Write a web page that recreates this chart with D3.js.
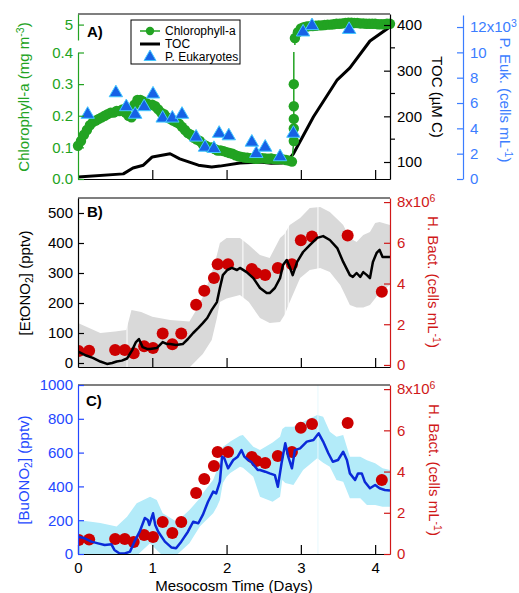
<!DOCTYPE html>
<html><head><meta charset="utf-8">
<script src="https://cdn.jsdelivr.net/npm/d3@7"></script>
<style>body{margin:0;background:#fff} text{font-family:"Liberation Sans",Arial,sans-serif}</style>
</head><body><svg id="c" width="519" height="593"></svg>
<script>
// ---------------- DATA ----------------
const dayTicks = [0, 1, 2, 3, 4];
// Chlorophyll-a (mg m-3): [day, value]
const chlLow = [[0,0.105],[0.04,0.12],[0.08,0.14],[0.12,0.155],[0.16,0.17],[0.2,0.18],[0.24,0.185],[0.28,0.19],[0.32,0.195],[0.36,0.2],[0.4,0.205],[0.44,0.21],[0.48,0.21],[0.52,0.215],[0.56,0.215],[0.6,0.22],[0.64,0.21],[0.68,0.2],[0.72,0.195],[0.76,0.235],[0.8,0.25],[0.84,0.25],[0.88,0.245],[0.92,0.24],[0.96,0.235],[1.0,0.235],[1.04,0.23],[1.08,0.22],[1.12,0.21],[1.16,0.205],[1.2,0.195],[1.24,0.19],[1.28,0.185],[1.32,0.18],[1.36,0.175],[1.4,0.165],[1.44,0.155],[1.48,0.145],[1.52,0.14],[1.56,0.13],[1.6,0.125],[1.64,0.12],[1.68,0.11],[1.72,0.105],[1.76,0.1],[1.8,0.1],[1.84,0.095],[1.88,0.09],[1.92,0.09],[1.96,0.088],[2.0,0.085],[2.04,0.082],[2.08,0.08],[2.12,0.075],[2.16,0.072],[2.2,0.07],[2.24,0.068],[2.28,0.067],[2.32,0.066],[2.36,0.065],[2.4,0.064],[2.44,0.065],[2.48,0.066],[2.52,0.065],[2.56,0.064],[2.6,0.065],[2.64,0.063],[2.68,0.062],[2.72,0.063],[2.76,0.062],[2.8,0.06],[2.84,0.058],[2.88,0.055]];
const chlJump = [[2.905,0.12],[2.905,0.16],[2.905,0.19],[2.905,0.23],[2.905,0.30]];
const chlHigh = [[2.92,4.65],[2.96,4.8],[3.0,4.9],[3.04,4.93],[3.08,4.95],[3.12,4.96],[3.16,4.96],[3.2,4.97],[3.24,4.98],[3.28,4.98],[3.32,4.99],[3.36,5.0],[3.4,5.0],[3.44,5.01],[3.48,5.02],[3.52,5.02],[3.56,5.03],[3.6,5.04],[3.64,5.05],[3.68,5.05],[3.72,5.04],[3.76,5.04],[3.8,5.03],[3.84,5.03],[3.88,5.02],[3.92,5.02],[3.96,5.02],[4.0,5.02],[4.04,5.01],[4.08,5.01],[4.12,5.01],[4.16,5.02],[4.2,5.02]];
// TOC (uM C)
const tocData = [[0,67],[0.61,74],[0.74,87],[0.88,93],[1.0,111],[1.24,118],[1.37,107],[1.62,93],[1.8,89],[1.91,91],[2.18,98],[2.45,100],[2.6,97],[2.75,98],[2.83,104],[2.9,118],[3.17,199],[3.49,280],[3.66,306],[3.93,365],[4.2,396]];
// P. Eukaryotes (10^3 cells mL-1)
const pEuk = [[0.13,5.1],[0.51,6.8],[0.65,5.7],[0.77,5.1],[0.89,5.7],[1.01,6.7],[1.14,4.8],[1.27,4.8],[1.40,5.1],[1.59,3.3],[1.71,2.5],[1.83,2.4],[1.90,3.6],[2.03,3.4],[2.34,2.9],[2.40,2.0],[2.52,2.5],[2.72,1.75],[2.90,3.6],[3.03,11.6],[3.15,12.1],[3.65,11.8]];
// H. Bact. (10^6 cells mL-1)
const hBactDays = [0.01,0.15,0.5,0.63,0.75,0.89,1.01,1.14,1.27,1.39,1.59,1.70,1.83,1.88,2.02,2.34,2.40,2.52,2.69,2.88,3.0,3.15,3.63,4.09];
const hBactVals = [0.68,0.70,0.73,0.73,0.58,0.92,0.83,1.55,1.02,1.55,2.96,3.64,4.27,4.95,4.95,4.71,4.51,4.42,4.76,4.95,6.12,6.31,6.36,3.59];
// EtONO2 (pptv)
const etono2 = [[0.01,37],[0.11,25],[0.2,17],[0.3,5],[0.39,-3],[0.46,0],[0.52,5],[0.59,8],[0.66,15],[0.73,43],[0.78,70],[0.82,80],[0.87,53],[0.93,47],[0.97,47],[1.06,50],[1.14,70],[1.2,63],[1.24,63],[1.32,60],[1.41,63],[1.48,80],[1.55,100],[1.62,117],[1.68,133],[1.74,150],[1.8,177],[1.87,203],[1.91,250],[1.95,293],[2.01,310],[2.07,317],[2.14,310],[2.18,317],[2.27,303],[2.36,283],[2.45,250],[2.54,233],[2.58,233],[2.65,250],[2.72,283],[2.76,327],[2.81,343],[2.85,320],[2.89,293],[2.95,337],[3.03,370],[3.12,393],[3.22,417],[3.3,423],[3.39,410],[3.49,383],[3.57,337],[3.66,293],[3.7,287],[3.75,300],[3.8,287],[3.84,303],[3.89,293],[3.93,283],[3.97,337],[4.02,367],[4.06,377],[4.1,353],[4.2,353]];
// EtONO2 range: [day, low, high]
const etono2Band = [[0,-20,133],[0.3,-20,100],[0.5,-20,105],[0.65,-20,110],[0.72,-20,177],[0.85,-20,170],[1.0,-20,154],[1.24,-20,143],[1.5,-15,138],[1.6,10,180],[1.68,30,220],[1.8,77,300],[1.87,150,360],[1.91,203,400],[2.0,215,417],[2.18,227,417],[2.3,203,393],[2.45,150,360],[2.58,133,350],[2.72,137,417],[2.78,160,430],[2.85,203,460],[2.99,283,483],[3.12,310,517],[3.26,317,520],[3.39,303,503],[3.53,260,470],[3.57,240,460],[3.66,193,417],[3.75,185,403],[3.84,185,427],[3.93,193,437],[4.0,215,467],[4.06,237,470],[4.2,260,460]];
const etono2Gaps = [0.66, 2.22, 2.79, 2.83, 3.23];
// BuONO2 (pptv)
const buono2 = [[0,102],[0.09,93],[0.18,73],[0.27,63],[0.36,53],[0.45,57],[0.49,24],[0.56,3],[0.63,3],[0.7,14],[0.76,73],[0.83,132],[0.9,213],[0.94,201],[0.96,172],[1.01,241],[1.04,172],[1.08,132],[1.17,73],[1.26,38],[1.32,34],[1.39,73],[1.48,132],[1.55,191],[1.62,182],[1.68,231],[1.75,309],[1.82,369],[1.86,359],[1.91,428],[1.94,576],[1.97,566],[2.02,507],[2.09,556],[2.15,576],[2.2,615],[2.24,576],[2.29,556],[2.33,546],[2.42,497],[2.45,497],[2.52,487],[2.58,477],[2.65,467],[2.69,398],[2.74,537],[2.79,655],[2.83,576],[2.88,507],[2.92,615],[2.99,625],[3.08,665],[3.17,675],[3.24,714],[3.3,665],[3.37,596],[3.43,546],[3.5,556],[3.57,605],[3.62,556],[3.66,477],[3.73,438],[3.77,477],[3.82,477],[3.86,428],[3.93,389],[4.0,408],[4.06,389],[4.13,379],[4.2,375]];
const buono2Band = [[0,-20,201],[0.3,-20,183],[0.52,-20,162],[0.66,-20,221],[0.79,-10,300],[0.97,63,339],[1.06,24,320],[1.14,-10,241],[1.33,-5,191],[1.5,63,260],[1.64,162,330],[1.68,180,359],[1.82,241,440],[1.87,280,497],[1.91,320,560],[1.95,420,635],[2.0,457,650],[2.05,480,665],[2.18,517,700],[2.22,510,704],[2.36,457,635],[2.45,339,615],[2.62,309,660],[2.72,339,694],[2.75,438,740],[2.79,420,753],[2.9,408,753],[3.03,497,783],[3.22,566,822],[3.3,540,812],[3.39,517,724],[3.48,438,694],[3.57,428,704],[3.66,330,576],[3.8,330,576],[3.89,290,555],[4.0,290,537],[4.1,280,507],[4.2,280,497]];
const buono2Gaps = [3.23];
const chlTicksLow = [0, 0.1, 0.2, 0.3, 0.4];
const chlTicksHigh = [5];
const tocTicks = [100, 200, 300, 400];
const tocMinor = [150, 250, 350];
const eukTicks = [0, 2, 4, 6, 8, 10, 12];
const etTicks = [0, 100, 200, 300, 400, 500];
const buTicks = [0, 200, 400, 600, 800, 1000];
const hbTicks = [0, 2, 4, 6, 8];

// ---------------- STYLE ----------------
const GREEN = "#22a322", EUKBLUE = "#3b7dff", RED = "#d01818", CBLUE = "#2447ff", LINEBLUE = "#0b2ad8";
const FS = 15;
const svg = d3.select("#c");
const defs = svg.append("defs");
function clip(id, x0, y0, x1, y1) {
  defs.append("clipPath").attr("id", id).append("rect").attr("x", x0).attr("y", y0).attr("width", x1 - x0).attr("height", y1 - y0);
  return "url(#" + id + ")";
}
const x = d3.scaleLinear().domain([0, 4.2]).range([78, 390]);

function styleAxis(g, color) {
  g.attr("font-size", FS).attr("font-family", null);
  g.selectAll("path,line").attr("stroke", color).attr("stroke-width", 1.2);
  g.selectAll("text").attr("fill", color);
}
function sup(t, main, s, after) {
  t.text(main);
  t.append("tspan").attr("dy", "-0.5em").attr("font-size", "0.7em").text(s);
  if (after) t.append("tspan").attr("dy", (0.35 * FS) + "px").text(after);
}
function title(cx, cy, rot, color) {
  return svg.append("text").attr("transform", `translate(${cx},${cy}) rotate(${rot})`)
    .attr("text-anchor", "middle").attr("font-size", FS).attr("fill", color);
}

// ================= PANEL A =================
const yLo = d3.scaleLinear().domain([0, 0.4]).range([179, 52.5]);
const yHi = d3.scaleLinear().domain([4.6, 5.275]).range([40, 14]);
const yToc = d3.scaleLinear().domain([62.77, 424.1]).range([179, 14]);
const yEuk = d3.scaleLinear().domain([0, 12.95]).range([179, 15]);
const cA = clip("cA", 78, 14, 390, 179);

svg.append("path").datum(tocData).attr("clip-path", cA)
  .attr("d", d3.line().x(d => x(d[0])).y(d => yToc(d[1])))
  .attr("fill", "none").attr("stroke", "#000").attr("stroke-width", 3).attr("stroke-linejoin", "round");

const chlAll = chlLow.concat(chlJump, chlHigh);
[[yLo, clip("cALo", 70, 52, 400, 186)], [yHi, clip("cAHi", 70, 8, 400, 45)]].forEach(([ys, cp]) => {
  const g = svg.append("g").attr("clip-path", cp);
  g.append("path").datum(chlAll).attr("d", d3.line().x(d => x(d[0])).y(d => ys(d[1])))
    .attr("fill", "none").attr("stroke", GREEN).attr("stroke-width", 1.5);
  g.selectAll("circle").data(chlAll).join("circle").attr("cx", d => x(d[0])).attr("cy", d => ys(d[1])).attr("r", 5.2).attr("fill", GREEN);
});

const tri = d3.symbol(d3.symbolTriangle, 78);
svg.append("g").selectAll("path").data(pEuk).join("path").attr("d", tri)
  .attr("transform", d => `translate(${x(d[0])},${yEuk(d[1])})`)
  .attr("fill", "#1662e6").attr("stroke", "#45c9ff").attr("stroke-width", 1);

// frame A
svg.append("line").attr("x1", 78).attr("x2", 390).attr("y1", 14).attr("y2", 14).attr("stroke", "#000").attr("stroke-width", 1.2);
styleAxis(svg.append("g").attr("transform", "translate(0,179)")
  .call(d3.axisBottom(x).tickValues(dayTicks.slice(1)).tickSize(-9).tickSizeOuter(0).tickFormat("")), "#000");
styleAxis(svg.append("g").attr("transform", "translate(78,0)")
  .call(d3.axisLeft(yLo).tickValues(chlTicksLow).tickFormat(d3.format(".1f")).tickSize(-6).tickSizeOuter(0).tickPadding(5)), GREEN);
styleAxis(svg.append("g").attr("transform", "translate(78,0)")
  .call(d3.axisLeft(yHi).tickValues(chlTicksHigh).tickFormat(d3.format("d")).tickSize(-6).tickSizeOuter(0).tickPadding(5)), GREEN);
styleAxis(svg.append("g").attr("transform", "translate(390,0)")
  .call(d3.axisRight(yToc).tickValues(tocTicks).tickSize(-6).tickSizeOuter(0).tickPadding(7)), "#000");
svg.append("g").selectAll("line").data(tocMinor).join("line")
  .attr("x1", 390).attr("x2", 395).attr("y1", d => yToc(d)).attr("y2", d => yToc(d)).attr("stroke", "#000").attr("stroke-width", 1.2);
const gEuk = svg.append("g").attr("transform", "translate(463,0)")
  .call(d3.axisRight(yEuk).tickValues(eukTicks).tickSize(-6).tickSizeOuter(0).tickPadding(7));
styleAxis(gEuk, EUKBLUE);
gEuk.selectAll("text").filter(d => d === 12).each(function () { sup(d3.select(this), "12x10", "3"); });

sup(title(29, 97, -90, GREEN), "Chlorophyll-a (mg m", "-3", ")");
title(432, 97, 90, "#000").text("TOC (µM C)");
sup(title(500, 100, 90, EUKBLUE), "P. Euk. (cells mL", "-1", ")");
svg.append("text").attr("x", 87).attr("y", 37).attr("font-size", FS).attr("font-weight", "bold").text("A)");

// legend
const lg = svg.append("g");
lg.append("rect").attr("x", 131).attr("y", 20).attr("width", 109).attr("height", 44).attr("fill", "#fff").attr("stroke", "#000").attr("stroke-width", 1);
lg.append("line").attr("x1", 140).attr("x2", 160).attr("y1", 31).attr("y2", 31).attr("stroke", GREEN).attr("stroke-width", 1.5);
lg.append("circle").attr("cx", 150).attr("cy", 31).attr("r", 4.2).attr("fill", GREEN);
lg.append("line").attr("x1", 140).attr("x2", 160).attr("y1", 44).attr("y2", 44).attr("stroke", "#000").attr("stroke-width", 3);
lg.append("path").attr("d", d3.symbol(d3.symbolTriangle, 62)).attr("transform", "translate(150,57)").attr("fill", "#1662e6").attr("stroke", "#45c9ff");
["Chlorophyll-a", "TOC", "P. Eukaryotes"].forEach((t, i) =>
  lg.append("text").attr("x", 165).attr("y", 35 + i * 13).attr("font-size", 12).text(t));

// ================= PANEL B =================
const yEt = d3.scaleLinear().domain([-13.3, 550]).range([367, 198]);
const yHbB = d3.scaleLinear().domain([-0.1, 8.2]).range([367, 198]);
const cB = clip("cB", 78, 198, 390, 367);
const gB = svg.append("g").attr("clip-path", cB);
gB.append("path").datum(etono2Band).attr("d", d3.area().x(d => x(d[0])).y0(d => yEt(d[1])).y1(d => yEt(d[2]))).attr("fill", "#d9d9d9");
gB.selectAll("line.gap").data(etono2Gaps).join("line").attr("class", "gap")
  .attr("x1", d => x(d)).attr("x2", d => x(d)).attr("y1", 198).attr("y2", 367).attr("stroke", "#fff").attr("stroke-width", 1);
gB.selectAll("circle").data(hBactDays).join("circle").attr("cx", d => x(d)).attr("cy", (d, i) => yHbB(hBactVals[i])).attr("r", 6).attr("fill", "#cc0000");
gB.append("path").datum(etono2).attr("d", d3.line().x(d => x(d[0])).y(d => yEt(d[1])))
  .attr("fill", "none").attr("stroke", "#000").attr("stroke-width", 2.5).attr("stroke-linejoin", "round");

svg.append("line").attr("x1", 78).attr("x2", 390).attr("y1", 198).attr("y2", 198).attr("stroke", "#000").attr("stroke-width", 1.2);
styleAxis(svg.append("g").attr("transform", "translate(0,367)")
  .call(d3.axisBottom(x).tickValues(dayTicks.slice(1)).tickSize(-9).tickSizeOuter(0).tickFormat("")), "#000");
styleAxis(svg.append("g").attr("transform", "translate(78,0)")
  .call(d3.axisLeft(yEt).tickValues(etTicks).tickFormat(d3.format("d")).tickSize(-6).tickSizeOuter(0).tickPadding(5)), "#000");
const gHbB = svg.append("g").attr("transform", "translate(390,0)")
  .call(d3.axisRight(yHbB).tickValues(hbTicks).tickSize(-6).tickSizeOuter(0).tickPadding(7));
styleAxis(gHbB, RED);
gHbB.selectAll("text").filter(d => d === 8).each(function () { sup(d3.select(this), "8x10", "6"); });
(function () {
  const t = title(30, 283, -90, "#000");
  t.text("[EtONO");
  t.append("tspan").attr("dy", "0.3em").attr("font-size", "0.7em").text("2");
  t.append("tspan").attr("dy", (-0.21 * FS) + "px").text("] (pptv)");
})();
sup(title(428, 282, 90, RED), "H. Bact. (cells mL", "-1", ")");
svg.append("text").attr("x", 87).attr("y", 217).attr("font-size", FS).attr("font-weight", "bold").text("B)");

// ================= PANEL C =================
const yBu = d3.scaleLinear().domain([0, 1000]).range([554, 385]);
const yHbC = d3.scaleLinear().domain([0, 8.2]).range([554, 385]);
const cC = clip("cC", 78, 385, 390, 554);
const gC = svg.append("g").attr("clip-path", cC);
gC.append("path").datum(buono2Band).attr("d", d3.area().x(d => x(d[0])).y0(d => yBu(d[1])).y1(d => yBu(d[2]))).attr("fill", "#b3ebf9");
gC.selectAll("line.gap").data(buono2Gaps).join("line").attr("class", "gap")
  .attr("x1", d => x(d)).attr("x2", d => x(d)).attr("y1", 385).attr("y2", 554).attr("stroke", "#e6f8fd").attr("stroke-width", 1);
gC.selectAll("circle").data(hBactDays).join("circle").attr("cx", d => x(d)).attr("cy", (d, i) => yHbC(hBactVals[i])).attr("r", 6).attr("fill", "#cc0000");
gC.append("path").datum(buono2).attr("d", d3.line().x(d => x(d[0])).y(d => yBu(d[1])))
  .attr("fill", "none").attr("stroke", LINEBLUE).attr("stroke-width", 2.5).attr("stroke-linejoin", "round");

svg.append("line").attr("x1", 78).attr("x2", 390).attr("y1", 385).attr("y2", 385).attr("stroke", "#000").attr("stroke-width", 1.2);
styleAxis(svg.append("g").attr("transform", "translate(0,554)")
  .call(d3.axisBottom(x).tickValues(dayTicks).tickSize(-9).tickSizeOuter(0).tickPadding(8).tickFormat(d3.format("d"))), "#000");
styleAxis(svg.append("g").attr("transform", "translate(78,0)")
  .call(d3.axisLeft(yBu).tickValues(buTicks).tickFormat(d3.format("d")).tickSize(-6).tickSizeOuter(0).tickPadding(5)), CBLUE);
const gHbC = svg.append("g").attr("transform", "translate(390,0)")
  .call(d3.axisRight(yHbC).tickValues(hbTicks).tickSize(-6).tickSizeOuter(0).tickPadding(7));
styleAxis(gHbC, RED);
gHbC.selectAll("text").filter(d => d === 8).each(function () { sup(d3.select(this), "8x10", "6"); });
(function () {
  const t = title(29, 470, -90, CBLUE);
  t.text("[BuONO");
  t.append("tspan").attr("dy", "0.3em").attr("font-size", "0.7em").text("2");
  t.append("tspan").attr("dy", (-0.21 * FS) + "px").text("] (pptv)");
})();
sup(title(429, 470, 90, RED), "H. Bact. (cells mL", "-1", ")");
svg.append("text").attr("x", 86).attr("y", 406).attr("font-size", FS).attr("font-weight", "bold").text("C)");
svg.append("text").attr("x", 234).attr("y", 591).attr("text-anchor", "middle").attr("font-size", FS).text("Mesocosm Time (Days)");
</script></body></html>
